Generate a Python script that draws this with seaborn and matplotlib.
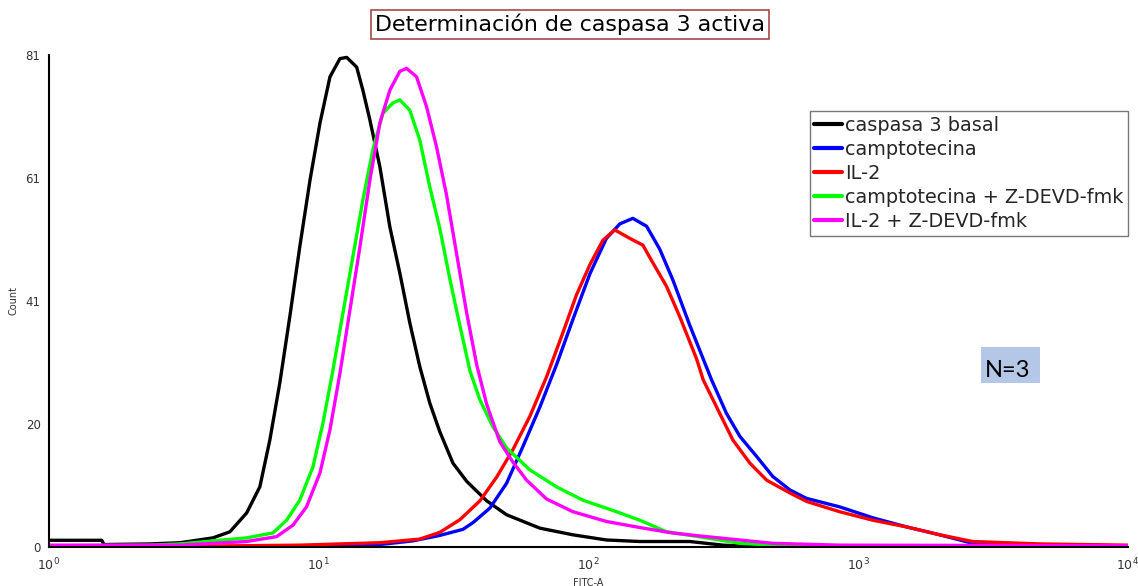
import numpy as np
import pandas as pd
import matplotlib
matplotlib.use("Agg")
import matplotlib.pyplot as plt
import matplotlib.ticker as mticker
from matplotlib.patches import Rectangle
import seaborn as sns

# Histogram traces (x given as log10 of FITC-A)
basal_log = [0, 0.196, 0.204, 0.374, 0.486, 0.608, 0.671, 0.733, 0.782, 0.819, 0.856, 0.893,
             0.930, 0.968, 1.005, 1.042, 1.079, 1.104, 1.141, 1.164, 1.190, 1.227, 1.264,
             1.301, 1.338, 1.375, 1.412, 1.449, 1.498, 1.549, 1.623, 1.697, 1.820, 1.943,
             2.067, 2.191, 2.376, 2.499, 2.625, 3.006, 3.08, 4.0]
basal_count = [1.1, 1.1, 0.4, 0.5, 0.7, 1.5, 2.5, 5.6, 9.9, 17.6, 27, 37.9,
               49.4, 60.4, 69.8, 77.4, 80.4, 80.6, 79, 75.2, 70.3, 62.6, 52.7,
               45.1, 36.9, 29.7, 23.7, 19, 13.8, 10.8, 7.6, 5.3, 3.1, 2.0,
               1.15, 0.9, 0.9, 0.3, 0.05, 0.1, 0, 0]

campto_log = [0, 0.930, 1.042, 1.227, 1.349, 1.449, 1.535, 1.572, 1.635, 1.697, 1.757, 1.820,
              1.882, 1.943, 2.006, 2.067, 2.117, 2.165, 2.216, 2.265, 2.313, 2.376, 2.457,
              2.512, 2.562, 2.624, 2.684, 2.747, 2.809, 2.932, 3.055, 3.180, 3.303, 3.425,
              3.550, 4.0]
campto_count = [0, 0.1, 0.2, 0.4, 1.0, 1.9, 2.9, 4.0, 6.4, 10.5, 16.5, 23,
                30, 37.5, 45, 50.8, 53.2, 54.1, 52.8, 49, 44, 36.5, 27.5,
                22, 18.2, 14.9, 11.6, 9.4, 8.0, 6.6, 4.8, 3.3, 2.0, 0.6,
                0.3, 0.2]

il2_log = [0, 0.486, 0.930, 1.227, 1.375, 1.449, 1.524, 1.598, 1.660, 1.720, 1.783, 1.845,
           1.905, 1.956, 2.006, 2.054, 2.098, 2.154, 2.202, 2.239, 2.290, 2.339, 2.401,
           2.426, 2.487, 2.536, 2.599, 2.661, 2.747, 2.809, 2.932, 3.055, 3.180, 3.303,
           3.425, 3.674, 4.0]
il2_count = [0, 0.1, 0.3, 0.7, 1.3, 2.4, 4.5, 7.6, 11.5, 16, 21.5, 28,
             35.2, 41.5, 46.5, 50.5, 52.2, 50.8, 49.7, 46.8, 42.9, 37.9, 31,
             27.5, 22, 17.6, 13.8, 11, 8.9, 7.5, 5.8, 4.4, 3.3, 2.0,
             0.9, 0.5, 0.3]

campto_z_log = [0, 0.374, 0.486, 0.733, 0.830, 0.881, 0.930, 0.979, 1.016, 1.053, 1.090, 1.127,
                1.164, 1.201, 1.238, 1.275, 1.301, 1.338, 1.375, 1.412, 1.449, 1.487, 1.516,
                1.561, 1.598, 1.646, 1.697, 1.783, 1.882, 1.980, 2.105, 2.191, 2.290, 2.438,
                2.562, 2.684, 3.155, 4.0]
campto_z_count = [0.2, 0.3, 0.5, 1.5, 2.3, 4.4, 7.7, 13.2, 20.4, 29.1, 38.5, 47.8,
                  57.1, 65.4, 71.4, 73.1, 73.6, 71.9, 67, 59.3, 52.5, 44, 38,
                  29, 24.2, 19.8, 16.3, 12.7, 9.9, 7.7, 5.8, 4.4, 2.5, 1.5,
                  0.6, 0.3, 0.1, 0]

il2_z_log = [0, 0.486, 0.733, 0.844, 0.905, 0.955, 1.005, 1.042, 1.079, 1.116, 1.153, 1.190,
             1.227, 1.264, 1.301, 1.326, 1.363, 1.400, 1.437, 1.474, 1.511, 1.549, 1.586,
             1.623, 1.672, 1.720, 1.771, 1.845, 1.943, 2.067, 2.191, 2.313, 2.438, 2.562,
             2.684, 2.932, 4.0]
il2_z_count = [0.3, 0.3, 0.9, 1.7, 3.6, 6.6, 12.2, 19.3, 28.6, 39, 49.4, 60.4,
               69.8, 75.2, 78.3, 78.8, 77.4, 72.5, 65.9, 58, 48.4, 38.5, 30,
               23.5, 17.3, 14, 11, 7.9, 5.8, 4.2, 3.2, 2.3, 1.7, 1.15,
               0.6, 0.3, 0.2]

labels = ["caspasa 3 basal", "camptotecina", "IL-2",
          "camptotecina + Z-DEVD-fmk", "IL-2 + Z-DEVD-fmk"]
colors = ["#000000", "#0000ff", "#ff0000", "#00ff00", "#ff00ff"]

y_ticks = [0, 20.25, 40.5, 60.75, 81]
y_tick_labels = ["0", "20", "41", "61", "81"]

series = [(basal_log, basal_count), (campto_log, campto_count), (il2_log, il2_count),
          (campto_z_log, campto_z_count), (il2_z_log, il2_z_count)]
frames = []
for name, (lx, cnt) in zip(labels, series):
    frames.append(pd.DataFrame({"FITC-A": 10 ** np.array(lx), "Count": cnt, "muestra": name}))
df = pd.concat(frames, ignore_index=True)

sns.set_style("white")
plt.rcParams["font.family"] = ["DejaVu Sans"]

fig = plt.figure(figsize=(11.38, 5.86), dpi=100)
ax = fig.add_axes([0.043, 0.0666, 0.948, 0.8396])

sns.lineplot(data=df, x="FITC-A", y="Count", hue="muestra", hue_order=labels,
             palette=colors, sort=False, estimator=None, linewidth=2.4, ax=ax)

ax.set_xscale("log")
ax.set_xlim(1, 1e4)
ax.set_ylim(0, 81)

ax.xaxis.set_major_locator(mticker.LogLocator(base=10, numticks=10))
ax.xaxis.set_minor_locator(mticker.LogLocator(base=10, subs=np.arange(2, 10), numticks=20))
ax.xaxis.set_minor_formatter(mticker.NullFormatter())
ax.set_yticks(y_ticks)
ax.set_yticklabels(y_tick_labels)
ax.yaxis.set_minor_locator(mticker.MultipleLocator(20.25 / 4))

ax.tick_params(axis="both", which="major", direction="out", length=4, width=1,
               color="black", labelsize=8.5, labelcolor="#333333", pad=2)
ax.tick_params(axis="both", which="minor", direction="out", length=3, width=0.8, color="black")
ax.tick_params(axis="x", which="major", labelsize=9, pad=3)

for side in ["top", "right"]:
    ax.spines[side].set_visible(False)
for side in ["left", "bottom"]:
    ax.spines[side].set_color("black")
    ax.spines[side].set_linewidth(1.5)

ax.set_xlabel("FITC-A", fontsize=7, color="#333333")
ax.xaxis.set_label_coords(0.5, -0.063)
ax.set_ylabel("Count", fontsize=7, color="#333333")
ax.yaxis.set_label_coords(-0.028, 0.5)

fig.text(0.501, 0.959, "Determinación de caspasa 3 activa", ha="center", va="center",
         fontsize=15.9, color="black",
         bbox=dict(boxstyle="square,pad=0.17", facecolor="white", edgecolor="#a84848", linewidth=1.2))

leg = ax.legend(loc="upper left", bbox_to_anchor=(0.705, 0.886), frameon=True, fancybox=False,
                fontsize=13.9, handlelength=1.45, handletextpad=0.12, borderpad=0.25,
                labelspacing=0.26, borderaxespad=0)
leg.get_frame().set_edgecolor("#555555")
leg.get_frame().set_linewidth(1.0)
for line in leg.get_lines():
    line.set_linewidth(3)

fig.patches.append(Rectangle((0.862, 0.3464), 0.0518, 0.0614, transform=fig.transFigure,
                             facecolor="#b4c7e7", edgecolor="none"))
fig.text(0.8656, 0.3567, "N=3", ha="left", va="baseline", fontsize=17,
         family=["Lato", "DejaVu Sans"], color="black")

fig.savefig("out.png", dpi=100)
